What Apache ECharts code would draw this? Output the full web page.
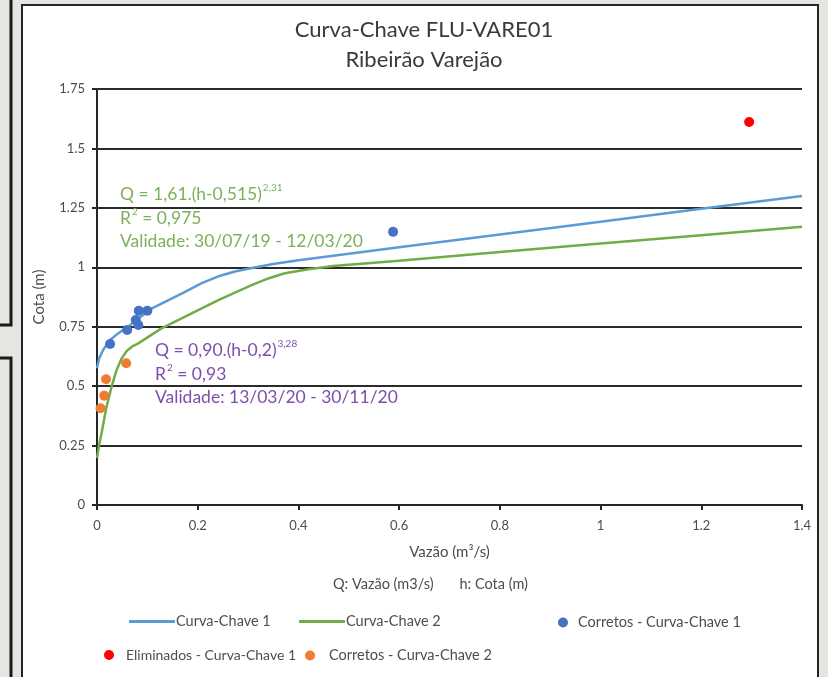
<!DOCTYPE html>
<html><head><meta charset="utf-8">
<script src="https://cdn.jsdelivr.net/npm/echarts@6/dist/echarts.min.js"></script>
<style>html,body{margin:0;padding:0;background:#e7e5e1;}#c{width:828px;height:677px;}</style>
</head><body><div id="c"></div>
<script>
// ---- data ----
const xTicks = [0, 0.2, 0.4, 0.6, 0.8, 1, 1.2, 1.4];
const yTicks = [0, 0.25, 0.5, 0.75, 1, 1.25, 1.5, 1.75];
const curve1Q = [0, 0.004, 0.012, 0.026, 0.042, 0.062, 0.082, 0.109, 0.142, 0.175, 0.208, 0.241, 0.274, 0.31, 0.35, 0.4, 0.6, 0.8, 1.0, 1.2, 1.4];
const curve1H = [0.575, 0.615, 0.652, 0.694, 0.722, 0.75, 0.785, 0.827, 0.862, 0.897, 0.933, 0.962, 0.982, 0.998, 1.014, 1.03, 1.084, 1.138, 1.192, 1.246, 1.30];
const curve2Q = [0, 0.004, 0.009, 0.019, 0.029, 0.039, 0.049, 0.059, 0.07, 0.082, 0.128, 0.175, 0.241, 0.307, 0.34, 0.373, 0.42, 0.469, 0.6, 0.8, 1.0, 1.2, 1.4];
const curve2H = [0.198, 0.25, 0.302, 0.414, 0.498, 0.568, 0.617, 0.648, 0.667, 0.68, 0.743, 0.792, 0.862, 0.925, 0.953, 0.975, 0.992, 1.005, 1.028, 1.064, 1.1, 1.135, 1.171];
const corretos1Q = [0.026, 0.06, 0.077, 0.082, 0.083, 0.10, 0.588];
const corretos1H = [0.677, 0.736, 0.778, 0.757, 0.817, 0.817, 1.149];
const eliminados1Q = [1.295];
const eliminados1H = [1.611];
const corretos2Q = [0.018, 0.0145, 0.007, 0.058];
const corretos2H = [0.529, 0.46, 0.407, 0.596];

const pairs = (xs, ys) => xs.map((x, i) => [x, ys[i]]);
const FONT = 'Lato';
const chart = echarts.init(document.getElementById('c'), null, {renderer: 'canvas'});
const textCol = '#4d4d4d';

const legendText = {color: textCol, fontSize: 14.5, fontFamily: FONT};
const legendBase = {orient: 'horizontal', textStyle: legendText, selectedMode: false, padding: 0, itemGap: 0};

chart.setOption({
  backgroundColor: 'transparent',
  animation: false,
  textStyle: {fontFamily: FONT},
  title: {
    text: 'Curva-Chave FLU-VARE01\nRibeirão Varejão',
    left: 419, top: 10, textAlign: 'center',
    textStyle: {fontSize: 22, fontWeight: 'normal', color: '#3a3a3a', lineHeight: 30, fontFamily: FONT}
  },
  grid: {left: 97, right: 26, top: 89, bottom: 172},
  xAxis: {
    type: 'value', min: 0, max: 1.4, interval: 0.2,
    name: 'Vazão (m³/s)', nameLocation: 'middle', nameGap: 40,
    nameTextStyle: {color: textCol, fontSize: 15, fontFamily: FONT},
    axisLine: {show: true, lineStyle: {color: '#262626', width: 2}},
    axisTick: {show: true, length: 5, lineStyle: {color: '#262626', width: 2}},
    axisLabel: {color: textCol, fontSize: 13, margin: 14, fontFamily: FONT},
    splitLine: {show: false}
  },
  yAxis: {
    type: 'value', min: 0, max: 1.75, interval: 0.25,
    name: 'Cota (m)', nameLocation: 'middle', nameGap: 50,
    nameTextStyle: {color: textCol, fontSize: 15, fontFamily: FONT},
    axisLine: {show: true, lineStyle: {color: '#262626', width: 2}},
    axisTick: {show: true, length: 5, lineStyle: {color: '#262626', width: 2}},
    axisLabel: {color: textCol, fontSize: 13, margin: 12, fontFamily: FONT},
    splitLine: {show: true, lineStyle: {color: '#2b2b2b', width: 2}}
  },
  legend: [
    Object.assign({}, legendBase, {data: [{name: 'Curva-Chave 1', icon: 'rect'}], left: 129, top: 614, itemWidth: 46, itemHeight: 3, textStyle: Object.assign({}, legendText, {padding: [0, 0, 0, -4]})}),
    Object.assign({}, legendBase, {data: [{name: 'Curva-Chave 2', icon: 'rect'}], left: 299, top: 614, itemWidth: 46, itemHeight: 3, textStyle: Object.assign({}, legendText, {padding: [0, 0, 0, -4]})}),
    Object.assign({}, legendBase, {data: [{name: 'Corretos - Curva-Chave 1', icon: 'circle'}], left: 558, top: 615, itemWidth: 10, itemHeight: 10, textStyle: Object.assign({}, legendText, {padding: [0, 0, 0, 5]})}),
    Object.assign({}, legendBase, {data: [{name: 'Eliminados - Curva-Chave 1', icon: 'circle'}], left: 104, top: 648, itemWidth: 10, itemHeight: 10, textStyle: Object.assign({}, legendText, {fontSize: 14, padding: [0, 0, 0, 7]})}),
    Object.assign({}, legendBase, {data: [{name: 'Corretos - Curva-Chave 2', icon: 'circle'}], left: 305, top: 648, itemWidth: 10, itemHeight: 10, textStyle: Object.assign({}, legendText, {padding: [0, 0, 0, 9]})})
  ],
  graphic: [
    {type: 'rect', z: -10, silent: true, shape: {x: 0, y: 0, width: 828, height: 677}, style: {fill: '#e7e5e1'}},
    {type: 'polyline', z: -9, silent: true, shape: {points: [[11, 0], [11, 325], [0, 325]]}, style: {stroke: '#1a1a1a', lineWidth: 3, fill: null}},
    {type: 'polyline', z: -9, silent: true, shape: {points: [[0, 358], [11, 358], [11, 677]]}, style: {stroke: '#1a1a1a', lineWidth: 3, fill: null}},
    {type: 'rect', z: -8, silent: true, shape: {x: 22, y: 5, width: 796, height: 680}, style: {fill: '#ffffff', stroke: '#262626', lineWidth: 2}},
    {type: 'text', z: 10, left: 120, top: 183, style: {
      text: '{a|Q = 1,61.(h-0,515)}{s|2,31}\n{a|R}{s|2}{a| = 0,975}\n{a|Validade: 30/07/19 - 12/03/20}',
      fill: '#7cb159', font: '17.5px Lato',
      rich: {a: {fontSize: 17.5, fontFamily: FONT, fill: '#7cb159', lineHeight: 23.5}, s: {fontSize: 10, fontFamily: FONT, fill: '#7cb159', verticalAlign: 'top', lineHeight: 23.5, padding: [0, 0, 8, 1]}}
    }},
    {type: 'text', z: 10, left: 155, top: 339, style: {
      text: '{a|Q = 0,90.(h-0,2)}{s|3,28}\n{a|R}{s|2}{a| = 0,93}\n{a|Validade: 13/03/20 - 30/11/20}',
      fill: '#7d4fab', font: '17.5px Lato',
      rich: {a: {fontSize: 17.5, fontFamily: FONT, fill: '#7d4fab', lineHeight: 23.5}, s: {fontSize: 10, fontFamily: FONT, fill: '#7d4fab', verticalAlign: 'top', lineHeight: 23.5, padding: [0, 0, 8, 1]}}
    }},
    {type: 'text', z: 10, left: 333, top: 577, style: {
      text: 'Q: Vazão (m3/s)       h: Cota (m)', fill: textCol, font: '14.5px Lato'
    }}
  ],
  series: [
    {name: 'Curva-Chave 1', type: 'line', data: pairs(curve1Q, curve1H), showSymbol: false, smooth: false,
     lineStyle: {color: '#5b9bd5', width: 2.5, join: 'round'}, itemStyle: {color: '#5b9bd5'}, z: 3},
    {name: 'Curva-Chave 2', type: 'line', data: pairs(curve2Q, curve2H), showSymbol: false, smooth: false,
     lineStyle: {color: '#70ad47', width: 2.5, join: 'round'}, itemStyle: {color: '#70ad47'}, z: 3},
    {name: 'Corretos - Curva-Chave 1', type: 'scatter', data: pairs(corretos1Q, corretos1H), symbolSize: 10, itemStyle: {color: '#4472c4', opacity: 1}, z: 5},
    {name: 'Eliminados - Curva-Chave 1', type: 'scatter', data: pairs(eliminados1Q, eliminados1H), symbolSize: 10, itemStyle: {color: '#ff0000', opacity: 1}, z: 5},
    {name: 'Corretos - Curva-Chave 2', type: 'scatter', data: pairs(corretos2Q, corretos2H), symbolSize: 10, itemStyle: {color: '#ed7d31', opacity: 1}, z: 5}
  ]
});
</script>
</body></html>
